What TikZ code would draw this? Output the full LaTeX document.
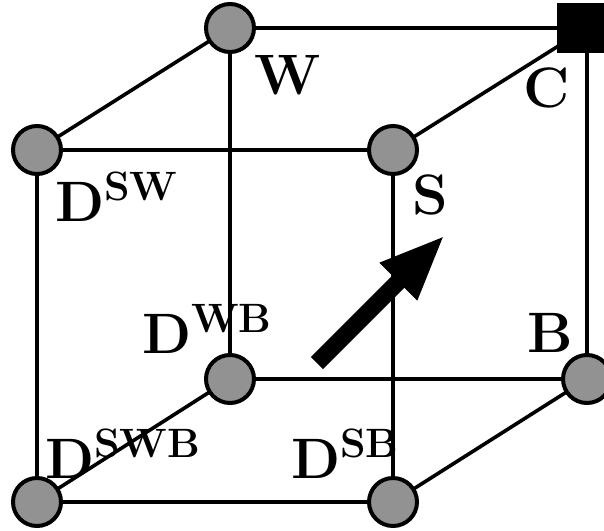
\documentclass[tikz,border=0pt]{standalone}
\usetikzlibrary{arrows.meta}
\definecolor{dotgray}{HTML}{929292}
\newcommand{\supx}[1]{\raisebox{21pt}{\fontsize{41}{41}\selectfont #1}}
\tikzset{
 dot/.style={circle,draw=black,line width=4pt,fill=dotgray,minimum size=48pt,inner sep=0pt},
 sq/.style={rectangle,fill=black,minimum width=60pt,minimum height=50pt,inner sep=0pt},
 lbl/.style={inner sep=0pt,font=\bfseries\fontsize{57}{57}\selectfont,anchor=base west},
 edge/.style={line width=3.6pt,black},
}
\begin{document}
\begin{tikzpicture}[x=1pt,y=-1pt]
\useasboundingbox (0,0) rectangle (604,530);
\coordinate (W) at (230,28);
\coordinate (C) at (587,28);
\coordinate (DSW) at (37,150);
\coordinate (S) at (393,150);
\coordinate (DWB) at (230,379);
\coordinate (B) at (587,379);
\coordinate (DSWB) at (37,502);
\coordinate (DSB) at (393,502);
\draw[edge] (W)--(C) (W)--(DSW) (W)--(DWB) (C)--(S) (C)--(B) (DSW)--(S) (DSW)--(DSWB) (S)--(DSB) (DWB)--(B) (DWB)--(DSWB) (B)--(DSB) (DSWB)--(DSB);
\node[dot] (nW) at (W) {};
\node[sq] (nC) at (C) {};
\node[dot] (nDSW) at (DSW) {};
\node[dot] (nS) at (S) {};
\node[dot] (nDWB) at (DWB) {};
\node[dot] (nB) at (B) {};
\node[dot] (nDSWB) at (DSWB) {};
\node[dot] (nDSB) at (DSB) {};
\coordinate (t0) at (317,363);
\coordinate (t1) at (445,235);
\draw[line width=17pt,-{Triangle[length=66pt,width=48pt,sep=0pt]}] (t0)--(t1);
\node[lbl] (lW) at (254,94) {W};
\node[lbl] (lC) at (523,107) {C};
\node[lbl] (lS) at (412,214) {S};
\node[lbl] (lB) at (527,352) {B};
\node[lbl] (l1) at (55,221) {D\supx{SW}};
\node[lbl] (l2) at (142,353) {D\supx{WB}};
\node[lbl] (l3) at (45,478) {D\supx{SWB}};
\node[lbl] (l4) at (291,478) {D\supx{SB}};
\end{tikzpicture}
\end{document}
